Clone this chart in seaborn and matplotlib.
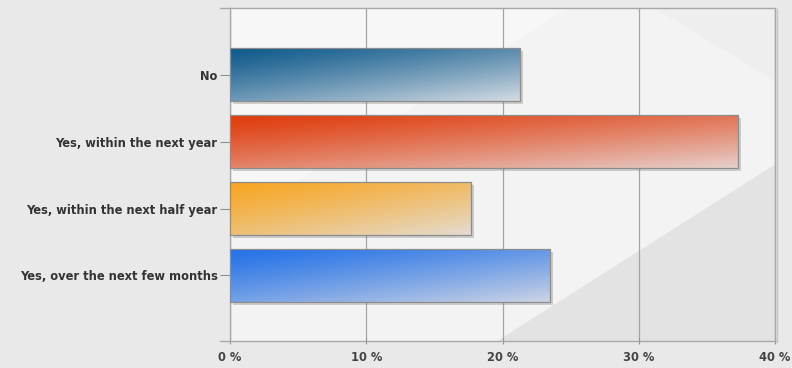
import numpy as np
import pandas as pd
import matplotlib
matplotlib.use("Agg")
import matplotlib.pyplot as plt
import matplotlib.patheffects as pe
from matplotlib.patches import Rectangle, Polygon
from matplotlib.lines import Line2D
from matplotlib.colors import to_rgb
import seaborn as sns

categories = ["No", "Yes, within the next year", "Yes, within the next half year",
              "Yes, over the next few months"]
values = [21.3, 37.3, 17.7, 23.5]
dark_colors = ["#0f5a8c", "#e03c0c", "#f8a622", "#2472e8"]
light_colors = ["#d4dce4", "#e6d0cc", "#e4dcd0", "#ccd4e4"]
xticks = [0, 10, 20, 30, 40]
xtick_labels = ["0 %", "10 %", "20 %", "30 %", "40 %"]

sns.set_theme(style="white")
plt.rcParams["font.family"] = ["DejaVu Sans"]

df = pd.DataFrame({"category": categories, "value": values})

fig = plt.figure(figsize=(7.92, 3.68), dpi=100, facecolor="#e9e9e9")
ax = fig.add_axes([230 / 792, 1 - 341 / 368, 545 / 792, 333 / 368])
ax.set_facecolor("#f3f3f3")

# diagonal background shading
ax.add_patch(Polygon([(0.0, 1.0), (0.62, 1.0), (0.0, 0.35)], closed=True,
                     transform=ax.transAxes, facecolor="#f7f7f7", edgecolor="none", zorder=0))
ax.add_patch(Polygon([(0.49, 0.0), (1.0, 0.53), (1.0, 0.0)], closed=True,
                     transform=ax.transAxes, facecolor="#e3e3e3", edgecolor="none", zorder=0))
ax.add_patch(Polygon([(0.78, 1.0), (1.0, 1.0), (1.0, 0.78)], closed=True,
                     transform=ax.transAxes, facecolor="#eeeeee", edgecolor="none", zorder=0))

sns.barplot(data=df, y="category", x="value", orient="h", width=0.79,
            color="#888888", ax=ax, zorder=3)

ax.set_xlim(0, 40)
ax.set_ylim(3.98, -1.0)

shadow = [pe.SimplePatchShadow(offset=(2.0, -2.0), shadow_rgbFace="#707070", alpha=0.3),
          pe.Normal()]

u = np.linspace(0, 1, 300)[None, :]
v = np.linspace(0, 1, 60)[:, None]
t = np.clip(0.55 * v + 0.45 * u, 0, 1) ** 1.2

bars = [p for p in ax.patches if isinstance(p, Rectangle) and p.get_zorder() == 3]
for patch, c0, c1 in zip(bars, dark_colors, light_colors):
    x0, y0 = patch.get_x(), patch.get_y()
    w, h = patch.get_width(), patch.get_height()
    a, b = np.array(to_rgb(c0)), np.array(to_rgb(c1))
    img = a[None, None, :] + (b - a)[None, None, :] * t[:, :, None]
    patch.set_facecolor(c0)
    patch.set_edgecolor("none")
    patch.set_path_effects(shadow)
    im = ax.imshow(img, extent=(x0, x0 + w, y0 + h, y0), aspect="auto",
                   interpolation="bilinear", zorder=3.5)
    im.set_clip_path(patch)
    ax.add_patch(Rectangle((x0, y0), w, h, facecolor="none", edgecolor="#8c8c8c",
                           linewidth=0.9, zorder=4))

ax.set_aspect("auto")
ax.set_xlim(0, 40)
ax.set_ylim(3.98, -1.0)

ax.set_xticks(xticks)
ax.set_xticklabels(xtick_labels)
ax.set_xlabel("")
ax.set_ylabel("")
ax.xaxis.grid(True, color="#a4a4a4", linewidth=0.9)
ax.set_axisbelow(True)
for gl in ax.get_xgridlines():
    gl.set_zorder(1)

ax.tick_params(axis="y", length=7, width=0.8, color="#909090", pad=2,
               labelsize=8.3, labelcolor="#333333", left=True)
ax.tick_params(axis="x", length=5, width=0.8, color="#909090", pad=5,
               labelsize=8.3, labelcolor="#444444", bottom=True, direction="inout")
for lbl in ax.get_yticklabels() + ax.get_xticklabels():
    lbl.set_fontweight("bold")

for side in ["left", "bottom", "top", "right"]:
    ax.spines[side].set_visible(True)
    ax.spines[side].set_color("#a8a8a8")
    ax.spines[side].set_linewidth(1.0)
ax.spines["right"].set_path_effects([pe.SimpleLineShadow(offset=(1.5, -1), shadow_color="#909090", alpha=0.4),
                                     pe.Normal()])

# extended frame lines to the left of the plot
for yy in (0.0, 1.0):
    ax.add_line(Line2D([-0.018, 0.0], [yy, yy], transform=ax.transAxes, color="#a8a8a8",
                       linewidth=1.0, clip_on=False))

fig.savefig("out.png", dpi=100, facecolor=fig.get_facecolor())
